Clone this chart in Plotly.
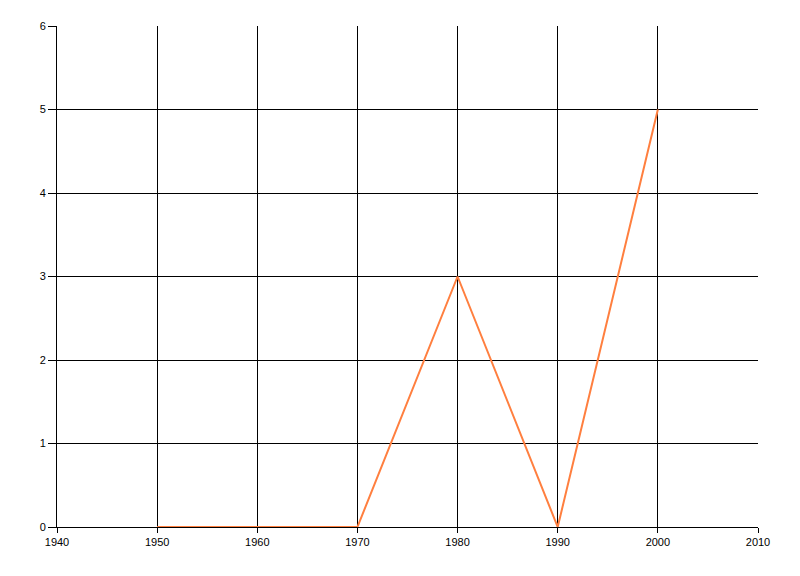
import plotly.graph_objects as go

years = [1950, 1960, 1970, 1980, 1990, 2000]
values = [0, 0, 0, 3, 0, 5]

fig = go.Figure()
fig.add_trace(go.Scatter(x=years, y=values, mode="lines",
                         line=dict(color="#FF7F3F", width=2), showlegend=False))

fig.update_layout(
    width=800, height=576,
    margin=dict(l=49, r=50, t=18, b=57),
    paper_bgcolor="white", plot_bgcolor="white",
    font=dict(family="Liberation Sans, Arial, sans-serif", size=11, color="black"),
)
fig.update_xaxes(range=[1940, 2010], tickmode="array",
                 tickvals=[1940, 1950, 1960, 1970, 1980, 1990, 2000, 2010],
                 showgrid=True, gridcolor="black", gridwidth=1,
                 showline=True, linecolor="black", linewidth=1,
                 ticks="outside", ticklen=5, tickcolor="black",
                 zeroline=False)
fig.update_yaxes(range=[0, 6], tickmode="array", tickvals=[0, 1, 2, 3, 4, 5, 6],
                 showgrid=True, gridcolor="black", gridwidth=1,
                 showline=True, linecolor="black", linewidth=1,
                 ticks="outside", ticklen=8, tickcolor="black",
                 zeroline=False)

fig.write_html("out.html")
